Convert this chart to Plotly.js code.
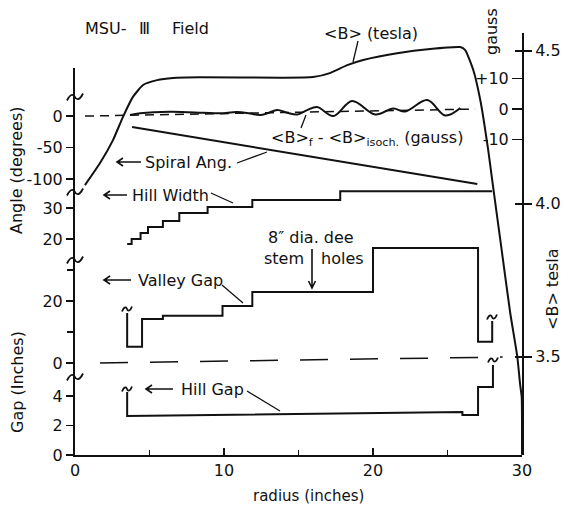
<!DOCTYPE html>
<html>
<head>
<meta charset="utf-8">
<script src="https://cdn.plot.ly/plotly-3.0.1.min.js"></script>
<style>html,body{margin:0;padding:0;background:#fff;}#chart{width:563px;height:510px;}</style>
</head>
<body>
<div id="chart"></div>
<script>
// ---------- data ----------
const radiusB = [0.67,1.68,2.55,3.22,3.90,4.57,5.51,6.58,8.39,13.77,15.98,17.10,18.27,19.34,21.62,23.84,25.86,26.19,26.73,27.20,27.73,28.00,28.61,29.21,29.68,29.88,29.98,30.0];
const fieldTesla = [4.061,4.133,4.208,4.284,4.350,4.388,4.404,4.411,4.413,4.412,4.414,4.427,4.453,4.470,4.492,4.506,4.512,4.502,4.437,4.339,4.176,4.077,3.858,3.643,3.502,3.407,3.368,3.18];

const radiusDev = [3.69,4.37,6.38,8.60,9.74,10.88,11.75,12.42,12.96,13.57,14.24,14.91,15.58,16.25,17.33,18.60,20.15,21.36,22.16,23.64,24.85,25.86];
const devGauss = [-1.97,-1.41,-0.89,-1.21,-1.41,-0.98,-1.48,-1.97,-1.31,-0.33,-1.21,-1.80,-0.33,0.66,-2.30,2.62,-1.80,0.16,-0.82,2.95,-2.13,0.33];

const radiusSpiral = [3.83, 27.0];
const spiralAngle = [-17.5, -107.9];

const radiusHW = [3.5,3.8,4.4,4.9,5.9,7.0,8.9,11.9,17.8,28.0];
const hillWidth = [18.4,20.0,21.9,23.9,25.8,28.4,30.3,32.6,35.4,35.4];

const radiusVG = [3.5,3.5,4.5,4.5,5.9,5.9,9.9,9.9,11.9,11.9,20.0,20.0,27.05,27.05,28.0,28.0];
const valleyGap = [16.1,5.2,5.2,14.2,14.2,15.2,15.2,18.4,18.4,22.9,22.9,37.1,37.1,6.8,6.8,13.5];

const radiusHG = [3.5,3.5,26.0,26.0,27.05,27.05,28.05,28.05];
const hillGap = [4.27,2.64,2.92,2.71,2.71,4.61,4.61,6.1];

const angleZeroR = [0.67, 26.85];
const angleZeroDeg = [0, 11.1];
const gapZeroR = [1.68, 28.7];
const gapZeroIn = [0, 1.9];

const xTicks = [0,10,20,30];
const angleTicks = [-100,-50,0];
const angleTickText = ['-100','-50','0'];
const hwTicks = [20,30];
const vgLabelTicks = [0,20];
const vgPlainTicks = [10,30];
const hgTicks = [0,2,4];
const teslaTicks = [3.5,4.0,4.5];
const teslaTickText = ['3.5','4.0','4.5'];
const gaussTicks = [-10,0,10];
const gaussTickText = ['-10','0','+10'];

// ---------- layout helpers ----------
const L = 75, T = 33, PW = 447, PH = 422;
const ppx = p => (p - L) / PW;
const ppy = p => (T + PH - p) / PH;
const FONT = 'DejaVu Sans';
const INK = '#111';
const LW = 2;

function tr(x, y, yaxis, extra) {
  return Object.assign({x: x, y: y, xaxis: 'x', yaxis: yaxis, mode: 'lines',
    hoverinfo: 'skip', showlegend: false,
    line: {color: INK, width: LW}}, extra || {});
}

const traces = [
  tr(radiusB, fieldTesla, 'y5', {line: {color: INK, width: LW, shape: 'spline', smoothing: 0.5}}),
  tr(angleZeroR, angleZeroDeg, 'y', {line: {color: INK, width: 1.5, dash: '9px,6px'}}),
  tr(radiusDev, devGauss, 'y7', {line: {color: INK, width: LW, shape: 'spline', smoothing: 1}}),
  tr(radiusSpiral, spiralAngle, 'y'),
  tr(radiusHW, hillWidth, 'y2', {line: {color: INK, width: LW, shape: 'hv'}}),
  tr(radiusVG, valleyGap, 'y3'),
  tr(gapZeroR, gapZeroIn, 'y3', {line: {color: INK, width: 1.5, dash: '28px,22px'}}),
  tr(radiusHG, hillGap, 'y4')
];

const leftAxis = (domain, range, tickvals, ticktext) => ({
  domain: domain, range: range, anchor: 'x', side: 'left',
  showline: true, linecolor: INK, linewidth: LW,
  ticks: 'outside', ticklen: 7, tickwidth: 1.5, tickcolor: INK,
  tickvals: tickvals, ticktext: ticktext || tickvals.map(String),
  showgrid: false, zeroline: false, automargin: false, fixedrange: true,
  tickfont: {family: FONT, size: 16, color: INK}
});

const P = (x, y) => ppx(x).toFixed(5) + ',' + ppy(y).toFixed(5);
// squiggle (break) path built from pixel offsets
function squiggle(cx, cy, w, h) {
  return 'M' + P(cx - w, cy + h) + ' C' + P(cx - w * 0.5, cy - h * 1.4) + ' ' + P(cx - w * 0.1, cy - h * 0.6) + ' ' + P(cx, cy) +
         ' C' + P(cx + w * 0.1, cy + h * 0.6) + ' ' + P(cx + w * 0.5, cy + h * 1.4) + ' ' + P(cx + w, cy - h);
}
const shapes = [];
[97, 192, 260, 377].forEach(y => shapes.push({type: 'path', xref: 'paper', yref: 'paper', path: squiggle(75, y, 8, 3.5), line: {color: INK, width: 1.8}}));
[[127, 309], [492, 317], [127, 389], [493, 360]].forEach(p => shapes.push({type: 'path', xref: 'paper', yref: 'paper', path: squiggle(p[0], p[1], 5, 2.5), line: {color: INK, width: 1.8}}));

function leader(x0, y0, x1, y1) {
  return {type: 'line', xref: 'paper', yref: 'paper', x0: ppx(x0), y0: ppy(y0), x1: ppx(x1), y1: ppy(y1), line: {color: INK, width: 1.3}};
}
shapes.push(leader(358, 41, 353, 62));
shapes.push(leader(301, 128, 306, 115));
shapes.push(leader(237, 163, 267, 152));
shapes.push(leader(211, 193, 233, 203));
shapes.push(leader(222, 285, 243, 303));
shapes.push(leader(247, 391, 280, 411));

// open arrows (line + V head)
function arrowLeft(hx, hy, tx) {
  shapes.push({type: 'path', xref: 'paper', yref: 'paper',
    path: 'M' + P(tx, hy) + ' L' + P(hx, hy) + ' M' + P(hx + 6, hy - 4) + ' L' + P(hx, hy) + ' L' + P(hx + 6, hy + 4),
    line: {color: INK, width: 1.6}});
}
function arrowDown(hx, hy, ty) {
  shapes.push({type: 'path', xref: 'paper', yref: 'paper',
    path: 'M' + P(hx, ty) + ' L' + P(hx, hy) + ' M' + P(hx - 3.5, hy - 7) + ' L' + P(hx, hy) + ' L' + P(hx + 3.5, hy - 7),
    line: {color: INK, width: 1.6}});
}
arrowLeft(117, 162, 141);
arrowLeft(104, 195, 127);
arrowLeft(104, 280, 131);
arrowLeft(146, 389, 173);
arrowDown(312, 288, 249);

function label(text, x, y, opts) {
  return Object.assign({text: text, x: ppx(x), y: ppy(y), xref: 'paper', yref: 'paper',
    xanchor: 'left', yanchor: 'middle', showarrow: false,
    font: {family: FONT, size: 16, color: INK}}, opts || {});
}

const annotations = [
  label('MSU-', 83, 29),
  label('Ⅲ', 137, 29),
  label('Field', 170, 29),
  label('&lt;B&gt; (tesla)', 322, 33),
  label('&lt;B&gt;<sub>f</sub> - &lt;B&gt;<sub>isoch.</sub> (gauss)', 269, 138),
  label('Spiral Ang.', 143, 162),
  label('Hill Width', 130, 195),
  label('Valley Gap', 136, 280),
  label('Hill Gap', 179, 389),
  label('8″ dia. dee', 266, 238),
  label('stem', 306, 258, {xanchor: 'right'}),
  label('holes', 319, 258),
  label('Angle (degrees)', 17, 170, {xanchor: 'center', textangle: -90}),
  label('Gap (Inches)', 17, 382, {xanchor: 'center', textangle: -90}),
  label('radius (inches)', 308, 496, {xanchor: 'center', font: {family: FONT, size: 15, color: INK}}),
  label('gauss', 492, 32, {xanchor: 'center', textangle: -90}),
  label('&lt;B&gt; tesla', 552, 289, {xanchor: 'center', textangle: -90})
];

const layout = {
  width: 563, height: 510,
  margin: {l: L, r: 563 - L - PW, t: T, b: 510 - T - PH, pad: 0},
  paper_bgcolor: '#fff', plot_bgcolor: 'rgba(0,0,0,0)',
  showlegend: false,
  font: {family: FONT, size: 16, color: INK},
  xaxis: {
    domain: [0, 1], range: [0, 30], anchor: 'y4',
    showline: true, linecolor: INK, linewidth: LW,
    ticks: 'inside', ticklen: 7, tickwidth: 1.5, tickcolor: INK,
    tickvals: xTicks, ticktext: xTicks.map(String),
    minor: {tickvals: [5, 15, 25], ticks: 'inside', ticklen: 5, tickwidth: 1.5, tickcolor: INK, showgrid: false},
    showgrid: false, zeroline: false, automargin: false, fixedrange: true,
    tickfont: {family: FONT, size: 16, color: INK}
  },
  yaxis: leftAxis([0.623, 0.917], [-120.6, 76.2], angleTicks, angleTickText),
  yaxis2: leftAxis([0.462, 0.640], [13.23, 37.42], hwTicks),
  yaxis3: leftAxis([0.185, 0.4976], [-4.52, 38.06], vgLabelTicks),
  yaxis4: leftAxis([0, 0.237], [0, 6.78], hgTicks),
  yaxis5: {
    domain: [0, 1], range: [3.179, 4.558], anchor: 'x', side: 'right',
    showline: true, linecolor: INK, linewidth: LW,
    ticks: 'outside', ticklen: 8, tickwidth: 1.5, tickcolor: INK,
    tickvals: teslaTicks, ticktext: teslaTickText,
    showgrid: false, zeroline: false, automargin: false, fixedrange: true,
    tickfont: {family: FONT, size: 16, color: INK}
  },
  yaxis6: {
    overlaying: 'y5', range: [3.179, 4.558], anchor: 'x', side: 'right',
    showline: false, ticks: 'inside', ticklen: 7, tickwidth: 1.5, tickcolor: INK,
    tickvals: teslaTicks, showticklabels: false,
    showgrid: false, zeroline: false, automargin: false, fixedrange: true
  },
  yaxis7: {
    domain: [0.623, 0.917], range: [-27.2, 13.44], anchor: 'free', position: 1, side: 'left',
    showline: false, ticks: 'outside', ticklen: 10, tickwidth: 1.5, tickcolor: INK,
    tickvals: gaussTicks, ticktext: gaussTickText,
    showgrid: false, zeroline: false, automargin: false, fixedrange: true,
    tickfont: {family: FONT, size: 16, color: INK}
  },
  yaxis8: {
    overlaying: 'y3', range: [-4.52, 38.06], anchor: 'x', side: 'left',
    showline: false, ticks: 'outside', ticklen: 7, tickwidth: 1.5, tickcolor: INK,
    tickvals: vgPlainTicks, showticklabels: false,
    showgrid: false, zeroline: false, automargin: false, fixedrange: true
  },
  shapes: shapes,
  annotations: annotations
};

traces.push({x: [0], y: [3.5], xaxis: 'x', yaxis: 'y6', mode: 'markers', marker: {opacity: 0}, hoverinfo: 'skip', showlegend: false});
traces.push({x: [0], y: [10], xaxis: 'x', yaxis: 'y8', mode: 'markers', marker: {opacity: 0}, hoverinfo: 'skip', showlegend: false});

Plotly.newPlot('chart', traces, layout, {staticPlot: true, displayModeBar: false});
</script>
</body>
</html>
